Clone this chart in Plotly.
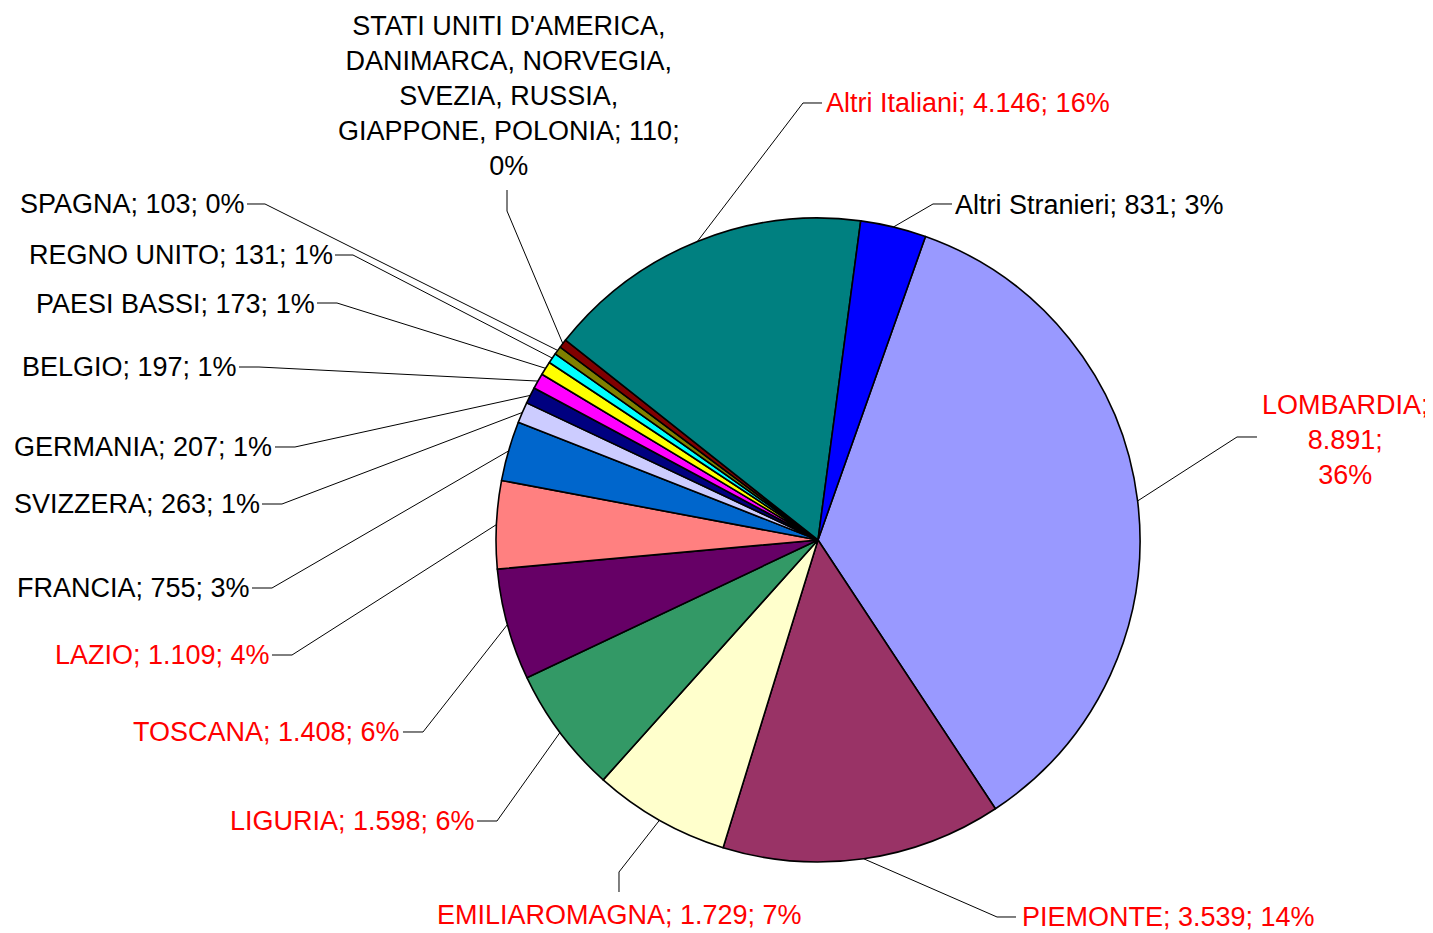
import math
import textwrap

import plotly.graph_objects as go

# ── Data ───────────────────────────────────────────────────────────────────────
names = [
    "LOMBARDIA", "PIEMONTE", "EMILIAROMAGNA", "LIGURIA", "TOSCANA", "LAZIO",
    "FRANCIA", "SVIZZERA", "GERMANIA", "BELGIO", "PAESI BASSI", "REGNO UNITO",
    "SPAGNA",
    "STATI UNITI D'AMERICA, DANIMARCA, NORVEGIA, SVEZIA, RUSSIA, GIAPPONE, POLONIA",
    "Altri Italiani", "Altri Stranieri",
]
values = [8891, 3539, 1729, 1598, 1408, 1109, 755, 263, 207, 197, 173, 131,
          103, 110, 4146, 831]
pct_labels = ["36%", "14%", "7%", "6%", "6%", "4%", "3%", "1%", "1%", "1%",
              "1%", "1%", "0%", "0%", "16%", "3%"]
italian = [True, True, True, True, True, True, False, False, False, False,
           False, False, False, False, True, False]

# ── Style ──────────────────────────────────────────────────────────────────────
colors = ["#9999FF", "#993366", "#FFFFCC", "#339966", "#660066", "#FF8080",
          "#0066CC", "#CCCCFF", "#000080", "#FF00FF", "#FFFF00", "#00FFFF",
          "#808000", "#800000", "#008080", "#0000FF"]

OFF = 8                            # page body margin of the html output
W, H = 1433 - OFF, 933 - OFF
CX, CY, R = 818, 540, 322          # pie centre / radius (page pixels)
ROTATION = 19.5                    # first slice starts here (deg, clockwise)
FONT = dict(family="Liberation Sans, Arial, sans-serif", size=27)

# label placement (page pixels): text x, text y, xanchor, stub end, elbow, wrap
label_pos = [
    (1345, 440, "center", (1257, 437), (1237, 437), "semi"),
    (1020, 917, "left",   (1016, 917), (997, 917),  None),
    (619,  915, "center", (619, 892),  (619, 872),  None),
    (477,  821, "right",  (477, 821),  (497, 821),  None),
    (402,  732, "right",  (403, 732),  (423, 732),  None),
    (272,  655, "right",  (272, 655),  (292, 655),  None),
    (252,  588, "right",  (252, 588),  (272, 588),  None),
    (262,  504, "right",  (262, 504),  (282, 504),  None),
    (274,  447, "right",  (275, 447),  (295, 447),  None),
    (239,  367, "right",  (239, 367),  (259, 367),  None),
    (317,  304, "right",  (317, 303),  (337, 303),  None),
    (335,  255, "right",  (335, 255),  (353, 255),  None),
    (247,  204, "right",  (247, 204),  (265, 204),  None),
    (509,  96,  "center", (507, 190),  (507, 211),  24),
    (824,  103, "left",   (822, 103),  (803, 103),  None),
    (953,  205, "left",   (952, 204),  (933, 204),  None),
]


def px(x, y):
    return (x - OFF) / W, 1 - (y - OFF) / H


fig = go.Figure(go.Pie(
    labels=names,
    values=values,
    sort=False,
    direction="clockwise",
    rotation=ROTATION,
    textinfo="none",
    hoverinfo="label+value",
    marker=dict(colors=colors, line=dict(color="black", width=1.6)),
    domain=dict(x=[px(CX - R, 0)[0], px(CX + R, 0)[0]],
                y=[px(0, CY + R)[1], px(0, CY - R)[1]]),
))

total = sum(values)
start = ROTATION
for name, val, pct, ita, pos in zip(names, values, pct_labels, italian, label_pos):
    span = 360 * val / total
    mid = math.radians(start + span / 2)
    start += span
    tx, ty, anchor, stub, elbow, wrap = pos

    num = f"{val:,}".replace(",", ".")
    text = f"{name}; {num}; {pct}"
    if wrap == "semi":
        text = text.replace("; ", ";<br>")
    elif wrap:
        text = "<br>".join(textwrap.wrap(text, wrap))

    ax, ay = px(tx, ty)
    fig.add_annotation(
        x=ax, y=ay, xref="paper", yref="paper",
        text=text, showarrow=False, xanchor=anchor, yanchor="middle",
        align="center", font=dict(FONT, color="#FF0000" if ita else "black"),
    )

    # leader line: pie edge -> elbow -> stub end
    edge = (CX + R * math.sin(mid), CY - R * math.cos(mid))
    pts = [px(*edge), px(*elbow), px(*stub)]
    path = "M " + " L ".join(f"{a:.5f},{b:.5f}" for a, b in pts)
    fig.add_shape(type="path", path=path, xref="paper", yref="paper",
                  line=dict(color="black", width=1))

fig.update_layout(
    width=W, height=H,
    margin=dict(l=0, r=0, t=0, b=0),
    paper_bgcolor="white",
    plot_bgcolor="white",
    showlegend=False,
    font=FONT,
)

fig.write_html("out.html")
